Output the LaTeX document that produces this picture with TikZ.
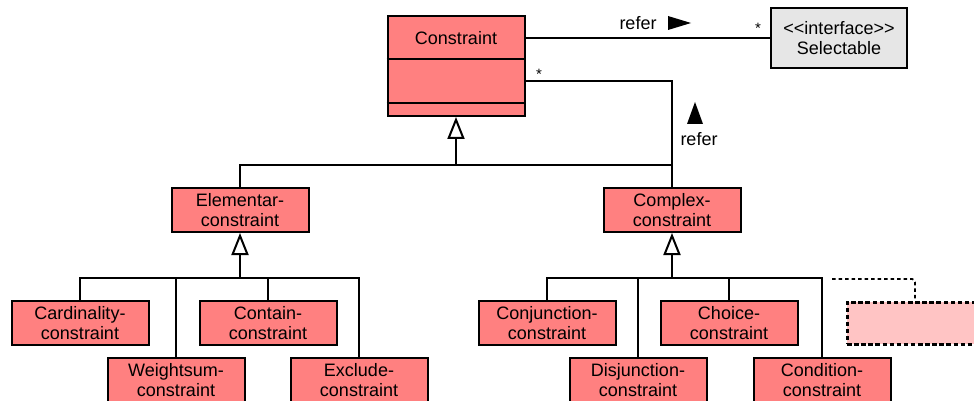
\documentclass[tikz,border=0pt]{standalone}
\usepackage{fontspec}
\setmainfont{Liberation Sans}
\usetikzlibrary{arrows.meta,calc}

\definecolor{classred}{RGB}{255,128,128}
\definecolor{classpink}{RGB}{255,196,196}
\definecolor{ifacegray}{RGB}{230,230,230}

\tikzset{
  umlfont/.style={font=\fontsize{18}{20}\selectfont},
  cls/.style={draw=black, line width=2pt, fill=classred, umlfont, align=center,
    minimum width=137pt, minimum height=44pt, inner sep=0pt},
  iface/.style={cls, fill=ifacegray, minimum width=136pt, minimum height=60pt},
  pending/.style={draw=black, line width=3pt, fill=classpink, dash pattern=on 4.5pt off 2.6pt,
    minimum width=136pt, minimum height=42pt, inner sep=0pt},
  conn/.style={draw=black, line width=2pt},
  gen/.style={conn, -{Triangle[open, length=22pt, width=17pt, fill=white, line width=2pt]}},
  hint/.style={draw=black, line width=1.8pt, dash pattern=on 3.5pt off 3pt, rounded corners=3pt},
  lbl/.style={umlfont, inner sep=0pt},
  mult/.style={font=\fontsize{15}{15}\selectfont, inner sep=0pt}
}

\begin{document}
\begin{tikzpicture}[x=1pt, y=-1pt]
  \useasboundingbox (0,0) rectangle (974,401);
  \fill[white] (0,0) rectangle (974,401);

  % root class with its two empty compartments
  \node[cls, minimum height=100pt] (constraint) at (456,66) {};
  \node[lbl] (constraint-name) at (456,38) {Constraint};
  \draw[conn] ($(constraint.north west)+(0,44)$) -- ($(constraint.north east)+(0,44)$);
  \draw[conn] ($(constraint.north west)+(0,88)$) -- ($(constraint.north east)+(0,88)$);

  \node[iface] (selectable) at (839,38)
    {<\kern0pt<interface>\kern0pt>\\Selectable};

  % first level
  \node[cls] (elem) at (240,210) {Elementar-\\constraint};
  \node[cls] (complex) at (672,210) {Complex-\\constraint};

  % elementary constraints
  \node[cls] (card) at (80,323) {Cardinality-\\constraint};
  \node[cls] (weight) at (176,380) {Weightsum-\\constraint};
  \node[cls] (contain) at (268,323) {Contain-\\constraint};
  \node[cls] (exclude) at (359,380) {Exclude-\\constraint};

  % complex constraints
  \node[cls] (conj) at (547,323) {Conjunction-\\constraint};
  \node[cls] (disj) at (638,380) {Disjunction-\\constraint};
  \node[cls] (choice) at (729,323) {Choice-\\constraint};
  \node[cls] (cond) at (822,380) {Condition-\\constraint};

  % placeholder for a further subclass
  \node[pending] (extra) at (915,323) {};

  % associations
  \draw[conn] (constraint.east |- selectable.west) -- (selectable.west);
  \node[lbl] (refer-top) at (638,23) {refer};
  \fill (668,16) -- (691,23) -- (668,30) -- cycle;
  \node[mult] (mult-sel) at (758,28) {*};

  \draw[conn] ($(constraint.north east)+(0,66)$) -| (complex.north);
  \node[mult] (mult-self) at (539,74) {*};
  \fill (695,102) -- (703,124) -- (687,124) -- cycle;
  \node[lbl] (refer-side) at (699,139) {refer};

  % generalisation: Constraint
  \coordinate (g1) at (456,165);
  \draw[conn] (elem.north) |- (g1 -| complex.north);
  \draw[gen] (g1) -- (constraint.south);

  % generalisation: Elementar-constraint
  \coordinate (g2) at (240,278);
  \draw[conn] (card.north) |- (g2 -| exclude.north) -- (exclude.north);
  \draw[conn] (weight.north) -- (weight.north |- g2);
  \draw[conn] (contain.north) -- (contain.north |- g2);
  \draw[gen] (g2) -- (elem.south);

  % generalisation: Complex-constraint
  \coordinate (g3) at (672,278);
  \draw[conn] (conj.north) |- (g3 -| cond.north) -- (cond.north);
  \draw[conn] (disj.north) -- (disj.north |- g3);
  \draw[conn] (choice.north) -- (choice.north |- g3);
  \draw[gen] (g3) -- (complex.south);

  % dotted hint towards the placeholder
  \coordinate (hint-start) at (832,279);
  \draw[hint] (hint-start) -| (extra.north);
\end{tikzpicture}
\end{document}
